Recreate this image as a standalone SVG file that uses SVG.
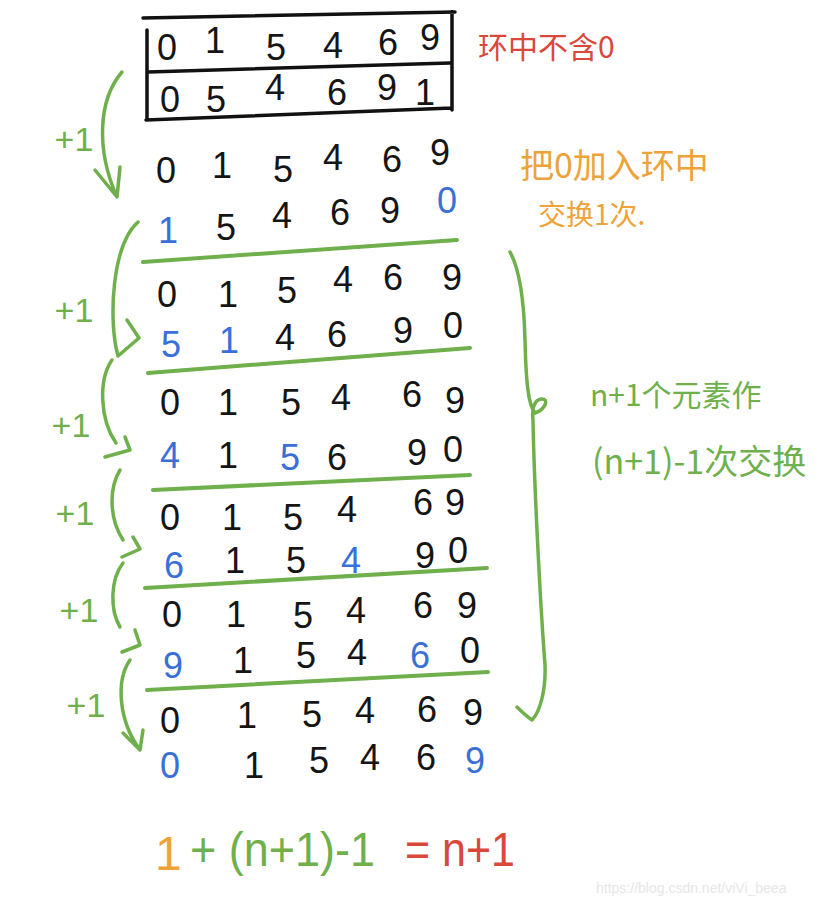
<svg xmlns="http://www.w3.org/2000/svg" width="820" height="906" viewBox="0 0 820 906">
<style>
.d{font-family:"Liberation Sans","DejaVu Sans",sans-serif;font-size:36px;fill:#151515;text-anchor:middle}
.b{fill:#3b6fd8}
.g{stroke:#6fb04c;stroke-width:3.5;fill:none;stroke-linecap:round;stroke-linejoin:round}
.gl{stroke:#6fb04c;stroke-width:4;fill:none;stroke-linecap:round}
.box{stroke:#111;stroke-width:3.5;fill:none;stroke-linecap:round}
.p1{font-family:"Liberation Sans","DejaVu Sans",sans-serif;font-size:34px;fill:#6fb04c;text-anchor:middle}
.cn{font-family:"Noto Sans CJK SC","Liberation Sans",sans-serif}
</style>
<rect width="820" height="906" fill="#ffffff"/>

<g id="box">
<path class="box" d="M143,18 L455,12 M147,30 L147,120 M452,12 L452,110 M148,72 L450,63 M146,120 L452,108"/>
<text class="d"><tspan x="167" y="60">0</tspan><tspan x="215" y="53">1</tspan><tspan x="276" y="60">5</tspan><tspan x="333" y="58">4</tspan><tspan x="388" y="55">6</tspan><tspan x="430" y="50">9</tspan></text>
<text class="d"><tspan x="170" y="112">0</tspan><tspan x="216" y="112">5</tspan><tspan x="275" y="100">4</tspan><tspan x="337" y="105">6</tspan><tspan x="387" y="100">9</tspan><tspan x="425" y="105">1</tspan></text>
<text class="cn" x="478" y="58" font-size="30" fill="#d9483b">环中不含0</text>
</g>

<g id="rowA">
<text class="d"><tspan x="166" y="183">0</tspan><tspan x="222" y="178">1</tspan><tspan x="283" y="182">5</tspan><tspan x="333" y="170">4</tspan><tspan x="392" y="172">6</tspan><tspan x="440" y="165">9</tspan></text>
<text class="d"><tspan class="b" x="168" y="243">1</tspan><tspan x="226" y="240">5</tspan><tspan x="282" y="228">4</tspan><tspan x="340" y="225">6</tspan><tspan x="390" y="223">9</tspan><tspan class="b" x="447" y="213">0</tspan></text>
</g>

<g id="rowB">
<text class="d"><tspan x="167" y="307">0</tspan><tspan x="228" y="307">1</tspan><tspan x="287" y="303">5</tspan><tspan x="343" y="292">4</tspan><tspan x="393" y="290">6</tspan><tspan x="452" y="290">9</tspan></text>
<text class="d"><tspan class="b" x="171" y="357">5</tspan><tspan class="b" x="229" y="353">1</tspan><tspan x="285" y="350">4</tspan><tspan x="337" y="347">6</tspan><tspan x="403" y="343">9</tspan><tspan x="453" y="338">0</tspan></text>
</g>

<g id="rowC">
<text class="d"><tspan x="170" y="415">0</tspan><tspan x="228" y="415">1</tspan><tspan x="291" y="415">5</tspan><tspan x="341" y="410">4</tspan><tspan x="412" y="407">6</tspan><tspan x="455" y="413">9</tspan></text>
<text class="d"><tspan class="b" x="170" y="468">4</tspan><tspan x="228" y="468">1</tspan><tspan class="b" x="290" y="470">5</tspan><tspan x="337" y="470">6</tspan><tspan x="417" y="465">9</tspan><tspan x="453" y="462">0</tspan></text>
</g>

<g id="rowD">
<text class="d"><tspan x="170" y="530">0</tspan><tspan x="232" y="530">1</tspan><tspan x="293" y="530">5</tspan><tspan x="347" y="522">4</tspan><tspan x="423" y="515">6</tspan><tspan x="455" y="515">9</tspan></text>
<text class="d"><tspan class="b" x="174" y="578">6</tspan><tspan x="235" y="573">1</tspan><tspan x="296" y="573">5</tspan><tspan class="b" x="351" y="573">4</tspan><tspan x="425" y="568">9</tspan><tspan x="458" y="563">0</tspan></text>
</g>

<g id="rowE">
<text class="d"><tspan x="172" y="627">0</tspan><tspan x="236" y="627">1</tspan><tspan x="303" y="628">5</tspan><tspan x="356" y="623">4</tspan><tspan x="423" y="618">6</tspan><tspan x="467" y="618">9</tspan></text>
<text class="d"><tspan class="b" x="173" y="678">9</tspan><tspan x="243" y="673">1</tspan><tspan x="306" y="668">5</tspan><tspan x="357" y="665">4</tspan><tspan class="b" x="420" y="668">6</tspan><tspan x="470" y="663">0</tspan></text>
</g>

<g id="rowF">
<text class="d"><tspan x="170" y="733">0</tspan><tspan x="247" y="728">1</tspan><tspan x="312" y="727">5</tspan><tspan x="365" y="723">4</tspan><tspan x="427" y="722">6</tspan><tspan x="473" y="725">9</tspan></text>
<text class="d"><tspan class="b" x="170" y="778">0</tspan><tspan x="254" y="778">1</tspan><tspan x="319" y="773">5</tspan><tspan x="370" y="770">4</tspan><tspan x="426" y="770">6</tspan><tspan class="b" x="475" y="773">9</tspan></text>
</g>

<g id="dividers">
<path class="gl" d="M143,262 L457,240"/>
<path class="gl" d="M148,373 L470,348"/>
<path class="gl" d="M153,490 L470,475"/>
<path class="gl" d="M145,588 L487,568"/>
<path class="gl" d="M147,690 L488,672"/>
</g>

<g id="connectors">
<path class="g" d="M122,72 C98,100 96,150 117,197 M95,170 L117,197 L120,167"/>
<path class="g" d="M138,222 C112,245 108,320 118,356 M127,320 L139,338 L118,356"/>
<path class="g" d="M112,360 C98,380 100,420 116,443 M105,457 L130,450 L125,437"/>
<path class="g" d="M120,470 C108,490 110,520 123,540 M122,557 L140,549 L133,537"/>
<path class="g" d="M123,563 C110,580 110,610 120,627 M122,652 L140,645 L135,630"/>
<path class="g" d="M130,660 C116,680 118,720 140,750 M123,733 L140,750 L143,730"/>
<path class="g" d="M510,252 C520,270 524,300 525,340 C526,380 528,405 535,413 C545,410 550,398 541,399 C533,400 532,412 533,420 C534,480 540,600 545,665 C546,690 540,712 532,720 C526,716 520,710 517,707"/>
</g>

<g id="labels">
<text class="p1" x="74" y="151">+1</text>
<text class="p1" x="74" y="322">+1</text>
<text class="p1" x="71" y="437">+1</text>
<text class="p1" x="75" y="525">+1</text>
<text class="p1" x="79" y="622">+1</text>
<text class="p1" x="86" y="717">+1</text>
</g>

<g id="notes">
<text class="cn" x="520" y="178" font-size="34" fill="#eda33a">把0加入环中</text>
<text class="cn" x="538" y="225" font-size="28" fill="#eda33a">交换1次.</text>
<text class="cn" x="590" y="406" font-size="30" fill="#6fb04c">n+1个元素作</text>
<text class="cn" x="592" y="474" font-size="34" fill="#6fb04c">(n+1)-1次交换</text>
</g>

<g id="formula" font-family="Liberation Sans, DejaVu Sans, sans-serif" font-size="48">
<text x="155" y="870" fill="#eda33a">1</text>
<text x="190" y="866" fill="#6fb04c" textLength="185" lengthAdjust="spacingAndGlyphs">+ (n+1)-1</text>
<text x="405" y="866" fill="#d9483b" textLength="110" lengthAdjust="spacingAndGlyphs">= n+1</text>
</g>

<text x="596" y="893" font-family="Liberation Sans, sans-serif" font-size="14" fill="#e6e6e6">https://blog.csdn.net/viVi_beea</text>
</svg>
